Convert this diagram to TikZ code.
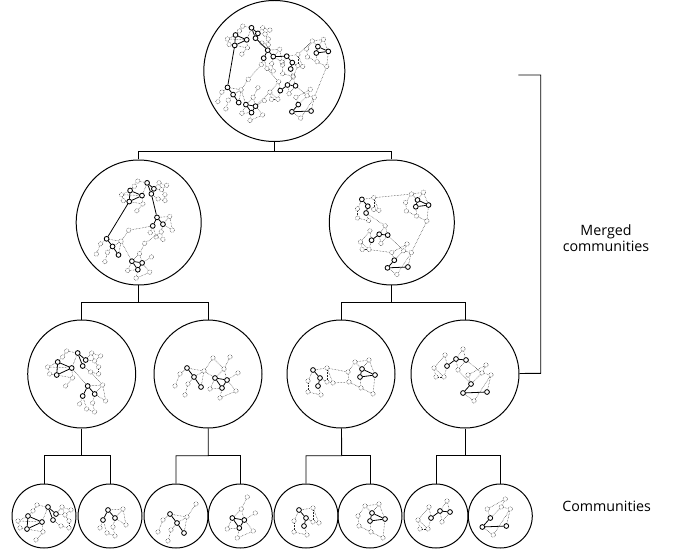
\documentclass[tikz,border=0pt]{standalone}
\usepackage{fontspec}
\setmainfont{Open Sans}

\tikzset{
  commcircle/.style={circle, draw, line width=1pt, inner sep=0pt},
  tree/.style={line width=0.9pt},
  bnode/.style={circle, draw, line width=0.85pt, inner sep=0pt, minimum size=4.8pt},
  dnode/.style={circle, draw=black!80, densely dotted, line width=0.55pt, inner sep=0pt, minimum size=4.4pt},
  bedge/.style={line width=0.8pt},
  dedge/.style={densely dotted, line width=0.5pt, black!85},
  sidetext/.style={font=\fontsize{14.3}{16}\selectfont, align=center}
}

% Eight small communities (coordinates relative to their centre)
\tikzset{
  cm1/.pic={
    \foreach \n/\x/\y in {a/-16/0, b/-17/13, c/-2/6, d/4/-9, e/9/4, f/12/-2}
      \node[bnode] (-\n) at (\x,\y) {};
    \foreach \n/\x/\y in {g/-7/-11, h/-11/-5, i/-26/5, j/-24/12, k/-1/16, l/-8/24,
                          m/18/-9, n/27/-6, o/21/-1, p/25/5, q/25/12, r/17/10}
      \node[dnode] (-\n) at (\x,\y) {};
    \foreach \u/\v in {a/b, a/c, b/c, d/e, d/f}
      \draw[bedge] (-\u) -- (-\v);
    \foreach \u/\v in {a/h, h/g, g/d, a/i, i/j, j/b, i/c, b/k, c/k, k/l, c/d,
                       f/m, m/n, n/o, o/f, o/p, p/q, q/r, r/e, m/o}
      \draw[dedge] (-\u) -- (-\v);
  },
  cm2/.pic={
    \foreach \n/\x/\y in {a/-2/-6, b/-7/4, c/5/2}
      \node[bnode] (-\n) at (\x,\y) {};
    \foreach \n/\x/\y in {d/13/-7, e/16/9, f/3/11, g/-10/12, h/-3/17, i/5/20}
      \node[dnode] (-\n) at (\x,\y) {};
    \foreach \u/\v in {a/b, a/c}
      \draw[bedge] (-\u) -- (-\v);
    \foreach \u/\v in {a/d, d/e, c/e, c/f, f/i, b/g, b/h, h/i, c/d}
      \draw[dedge] (-\u) -- (-\v);
  },
  cm3/.pic={
    \foreach \n/\x/\y in {a/-6/-2, b/1/7, c/8/17}
      \node[bnode] (-\n) at (\x,\y) {};
    \foreach \n/\x/\y in {d/20/-12, e/11/1, f/-13/4, g/-18/16, h/-5/14, i/-8/25}
      \node[dnode] (-\n) at (\x,\y) {};
    \foreach \u/\v in {a/b, b/c}
      \draw[bedge] (-\u) -- (-\v);
    \foreach \u/\v in {d/e, e/c, e/b, a/f, f/g, b/h, h/i, a/e}
      \draw[dedge] (-\u) -- (-\v);
  },
  cm4/.pic={
    \foreach \n/\x/\y in {a/-8/2, b/-1/12, c/4/4}
      \node[bnode] (-\n) at (\x,\y) {};
    \foreach \n/\x/\y in {d/7/-19, e/1/-7, f/15/-3, g/-13/13, h/13/15, i/-3/22}
      \node[dnode] (-\n) at (\x,\y) {};
    \foreach \u/\v in {a/b, b/c, a/c}
      \draw[bedge] (-\u) -- (-\v);
    \foreach \u/\v in {d/e, e/a, e/c, c/f, c/h, g/a, g/b, b/i, i/h}
      \draw[dedge] (-\u) -- (-\v);
  },
  cm5/.pic={
    \foreach \n/\x/\y in {a/-7/-6, b/0/2, c/-2/10}
      \node[bnode] (-\n) at (\x,\y) {};
    \foreach \n/\x/\y in {d/7/-8, e/13/7, f/-12/5, g/-12/16, h/1/19, i/7/6}
      \node[dnode] (-\n) at (\x,\y) {};
    \foreach \u/\v in {a/b, b/c}
      \draw[bedge] (-\u) -- (-\v);
    \foreach \u/\v in {a/d, d/e, e/i, i/b, f/a, f/g, g/h, c/h, d/i}
      \draw[dedge] (-\u) -- (-\v);
  },
  cm6/.pic={
    \foreach \n/\x/\y in {a/2/-3, b/0/5, c/15/3}
      \node[bnode] (-\n) at (\x,\y) {};
    \foreach \n/\x/\y in {d/-5/-10, e/9/-12, f/-12/0, g/-11/10, h/1/16, i/13/22}
      \node[dnode] (-\n) at (\x,\y) {};
    \foreach \u/\v in {a/b, b/c, a/c}
      \draw[bedge] (-\u) -- (-\v);
    \foreach \u/\v in {d/e, e/c, d/a, f/d, f/g, g/h, h/b, h/i, i/c, e/a}
      \draw[dedge] (-\u) -- (-\v);
  },
  cm7/.pic={
    \foreach \n/\x/\y in {a/-5/2, b/4/-5, c/14/-4}
      \node[bnode] (-\n) at (\x,\y) {};
    \foreach \n/\x/\y in {d/-7/-9, e/11/-15, f/-18/4, g/-8/13, h/6/6, i/-16/13}
      \node[dnode] (-\n) at (\x,\y) {};
    \foreach \u/\v in {a/b, b/c}
      \draw[bedge] (-\u) -- (-\v);
    \foreach \u/\v in {d/f, f/g, a/g, e/b, e/c, h/b, h/c, f/i, d/a, i/g}
      \draw[dedge] (-\u) -- (-\v);
  },
  cm8/.pic={
    \foreach \n/\x/\y in {a/-10/2, b/-18/11, c/6/10}
      \node[bnode] (-\n) at (\x,\y) {};
    \foreach \n/\x/\y in {d/-13/-7, e/5/-17, f/1/-9, g/10/-7, h/-7/19}
      \node[dnode] (-\n) at (\x,\y) {};
    \foreach \u/\v in {a/b, b/c}
      \draw[bedge] (-\u) -- (-\v);
    \foreach \u/\v in {d/e, e/f, f/a, g/c, b/h, h/g, d/a, f/g}
      \draw[dedge] (-\u) -- (-\v);
  }
}

\begin{document}
\begin{tikzpicture}[x=1bp, y=-1bp]
  \useasboundingbox (0,0) rectangle (673,552);

  % Hierarchy circles
  \node[commcircle, minimum size=141bp] (top) at (274.3,71) {};
  \node[commcircle, minimum size=125bp] (l2a) at (138.7,222.5) {};
  \node[commcircle, minimum size=125bp] (l2b) at (391.8,222.5) {};
  \node[commcircle, minimum size=108bp] (l3a) at (81.7,374) {};
  \node[commcircle, minimum size=108bp] (l3b) at (208,374) {};
  \node[commcircle, minimum size=108bp] (l3c) at (341,374) {};
  \node[commcircle, minimum size=108bp] (l3d) at (465,374) {};
  \foreach \i/\x in {1/44, 2/110, 3/176, 4/240.3, 5/306, 6/370, 7/436, 8/500.3}
    \node[commcircle, minimum size=64bp] (l4\i) at (\x,516) {};

  % Tree connectors
  \coordinate (j1) at (274.3,151.7);
  \coordinate (j2a) at (138.7,302.5);
  \coordinate (j2b) at (391.8,302.5);
  \coordinate (j3a) at (81.7,455.7);
  \coordinate (j3b) at (208.3,455.7);
  \coordinate (j3c) at (341.7,455.7);
  \coordinate (j3d) at (465,455.7);
  \draw[tree] (top) -- (j1) -| (l2a.north);
  \draw[tree] (j1) -| (l2b.north);
  \draw[tree] (l2a) -- (j2a) -| (l3a.north);
  \draw[tree] (j2a) -| (l3b.north);
  \draw[tree] (l2b) -- (j2b) -| (l3c.north);
  \draw[tree] (j2b) -| (l3d.north);
  \draw[tree] (l3a) -- (j3a) -| (l41.north);
  \draw[tree] (j3a) -| (l42.north);
  \draw[tree] (l3b) -- (j3b) -| (l43.north);
  \draw[tree] (j3b) -| (l44.north);
  \draw[tree] (l3c) -- (j3c) -| (l45.north);
  \draw[tree] (j3c) -| (l46.north);
  \draw[tree] (l3d) -- (j3d) -| (l47.north);
  \draw[tree] (j3d) -| (l48.north);

  % Bracket and labels
  \coordinate (b1) at (518.3,75);
  \coordinate (b2) at (540.7,75);
  \coordinate (b3) at (540.7,373.3);
  \draw[tree] (b1) -- (b2) -- (b3) -- (l3d);
  \node[sidetext] (merged) at (606,238) {Merged\\communities};
  \node[sidetext] (single) at (606.7,506) {Communities};

  % Level 4: single communities
  \pic (w1) at (44,516) {cm1};
  \pic (w2) at (110,516) {cm2};
  \pic (w3) at (176,516) {cm3};
  \pic (w4) at (240.3,516) {cm4};
  \pic (w5) at (306,516) {cm5};
  \pic (w6) at (370,516) {cm6};
  \pic (w7) at (436,516) {cm7};
  \pic (w8) at (500.3,516) {cm8};

  % Level 3: pairs
  \pic (va1) at (73.7,362) {cm1};
  \pic (va2) at (89.7,392) {cm2};
  \pic (vb3) at (193,370) {cm3};
  \pic (vb4) at (223,376) {cm4};
  \pic (vc5) at (320,376) {cm5};
  \pic (vc6) at (360,372) {cm6};
  \pic (vd7) at (452,364) {cm7};
  \pic (vd8) at (481,382) {cm8};
  \foreach \u/\v in {va1-c/va2-a, va1-r/va2-d, vb3-e/vb4-a, vb3-d/vb4-e,
                     vc5-d/vc6-f, vc5-e/vc6-g, vd7-c/vd8-f, vd7-h/vd8-a}
    \draw[dedge] (\u) -- (\v);

  % Level 2: groups of four
  \pic[scale=0.85] (ua1) at (143.7,190.5) {cm1};
  \pic[scale=0.85] (ua2) at (158.7,222.5) {cm2};
  \pic[scale=0.85] (ua3) at (111.7,240.5) {cm3};
  \pic[scale=0.85] (ua4) at (138.7,259.5) {cm4};
  \pic[scale=0.85] (ub5) at (367.8,204.5) {cm5};
  \pic[scale=0.85] (ub6) at (415.8,202.5) {cm6};
  \pic[scale=0.85] (ub7) at (375.8,238.5) {cm7};
  \pic[scale=0.85] (ub8) at (402.8,258.5) {cm8};
  \draw[bedge] (ua1-b) -- (ua3-a);
  \draw[bedge] (ua1-e) -- (ua2-a);
  \foreach \u/\v in {ua2-f/ua4-d, ua3-e/ua4-a, ua2-b/ua3-d,
                     ub5-d/ub6-d, ub5-c/ub7-e, ub6-i/ub8-g, ub7-c/ub8-f, ub7-g/ub8-d}
    \draw[dedge] (\u) -- (\v);

  % Level 1: all eight
  \pic[scale=0.8] (t1) at (248.3,35) {cm1};
  \pic[scale=0.8] (t2) at (269.3,55) {cm2};
  \pic[scale=0.8] (t3) at (232.3,89) {cm3};
  \pic[scale=0.8] (t4) at (252.3,103) {cm4};
  \pic[scale=0.8] (t5) at (292.3,61) {cm5};
  \pic[scale=0.8] (t6) at (316.3,49) {cm6};
  \pic[scale=0.8] (t7) at (284.3,89) {cm7};
  \pic[scale=0.8] (t8) at (306.3,103) {cm8};
  \draw[bedge] (t1-b) -- (t3-a);
  \draw[bedge] (t1-e) -- (t2-a);
  \draw[bedge] (t2-c) -- (t5-a);
  \foreach \u/\v in {t5-d/t6-d, t6-i/t8-g, t5-i/t7-e, t3-e/t4-a, t4-c/t7-f,
                     t7-c/t8-f, t2-h/t7-d, t3-d/t2-g}
    \draw[dedge] (\u) -- (\v);
\end{tikzpicture}
\end{document}
